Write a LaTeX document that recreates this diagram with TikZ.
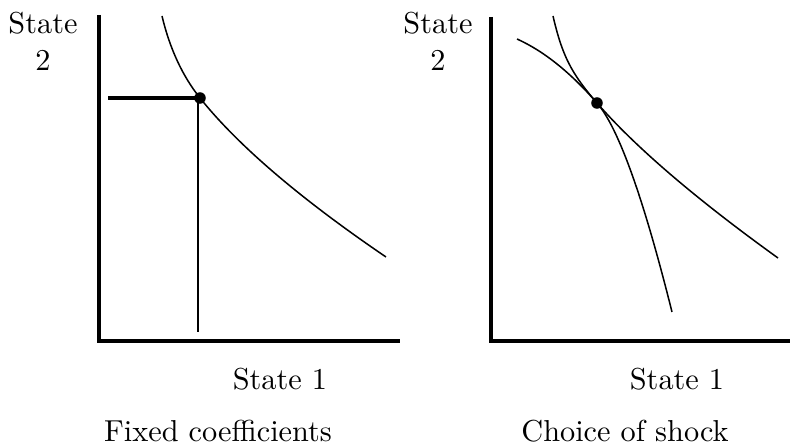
\documentclass[tikz,border=0pt]{standalone}
\usetikzlibrary{positioning}
\tikzstyle{axis}  = [line width=1.1pt]
\tikzstyle{curve} = [line width=0.5pt]
\tikzstyle{hguide} = [line width=1.1pt]
\tikzstyle{vguide} = [line width=0.6pt]
\tikzstyle{lbl}   = [inner sep=0pt, font=\normalsize]
\tikzstyle{spot}  = [circle, fill=black, inner sep=0pt, minimum size=3.8pt]

\begin{document}
\begin{tikzpicture}[x=0.33pt, y=-0.33pt]
  \useasboundingbox (0,0) rectangle (790,446);

  % left panel: fixed coefficients
  \coordinate (top1) at (99,15);
  \coordinate (o1)   at (99,341);
  \coordinate (end1) at (400,341);
  \draw[axis] (top1) -- (o1) -- (end1);

  \node[spot] (e1) at (200,98) {};
  \draw[curve] (162,16) .. controls (169.8,48.7) and (182.5,76.1) .. (e1.center)
               .. controls (238,145.5) and (300,198.5) .. (386,257);

  \coordinate (h1) at (108,98);
  \coordinate (v1) at (198,332);
  \draw[hguide] (h1) -- (e1.center);
  \draw[vguide] (e1.center -| v1) -- (v1);

  \node[lbl, align=center, anchor=north] (s2a) at (43,12) {State\\2};
  \node[lbl, anchor=base] (s1a) at (280,390) {State 1};
  \node[lbl, anchor=base] (cap1) at (218,442) {Fixed coefficients};

  % right panel: choice of shock
  \coordinate (top2) at (491,17);
  \coordinate (o2)   at (491,341);
  \coordinate (end2) at (790,341);
  \draw[axis] (top2) -- (o2) -- (end2);

  \node[spot] (e2) at (597,103) {};
  \draw[curve] (553,16) .. controls (562.3,55.8) and (571.1,73.2) .. (e2.center)
               .. controls (618.3,127.5) and (643.3,197.2) .. (672,312);
  \draw[curve] (517,39) .. controls (543.7,51) and (570.3,72.3) .. (e2.center)
               .. controls (635.3,147) and (695.6,198.7) .. (778,258);

  \node[lbl, align=center, anchor=north] (s2b) at (438,12) {State\\2};
  \node[lbl, anchor=base] (s1b) at (677,390) {State 1};
  \node[lbl, anchor=base] (cap2) at (625,442) {Choice of shock};

\end{tikzpicture}
\end{document}
